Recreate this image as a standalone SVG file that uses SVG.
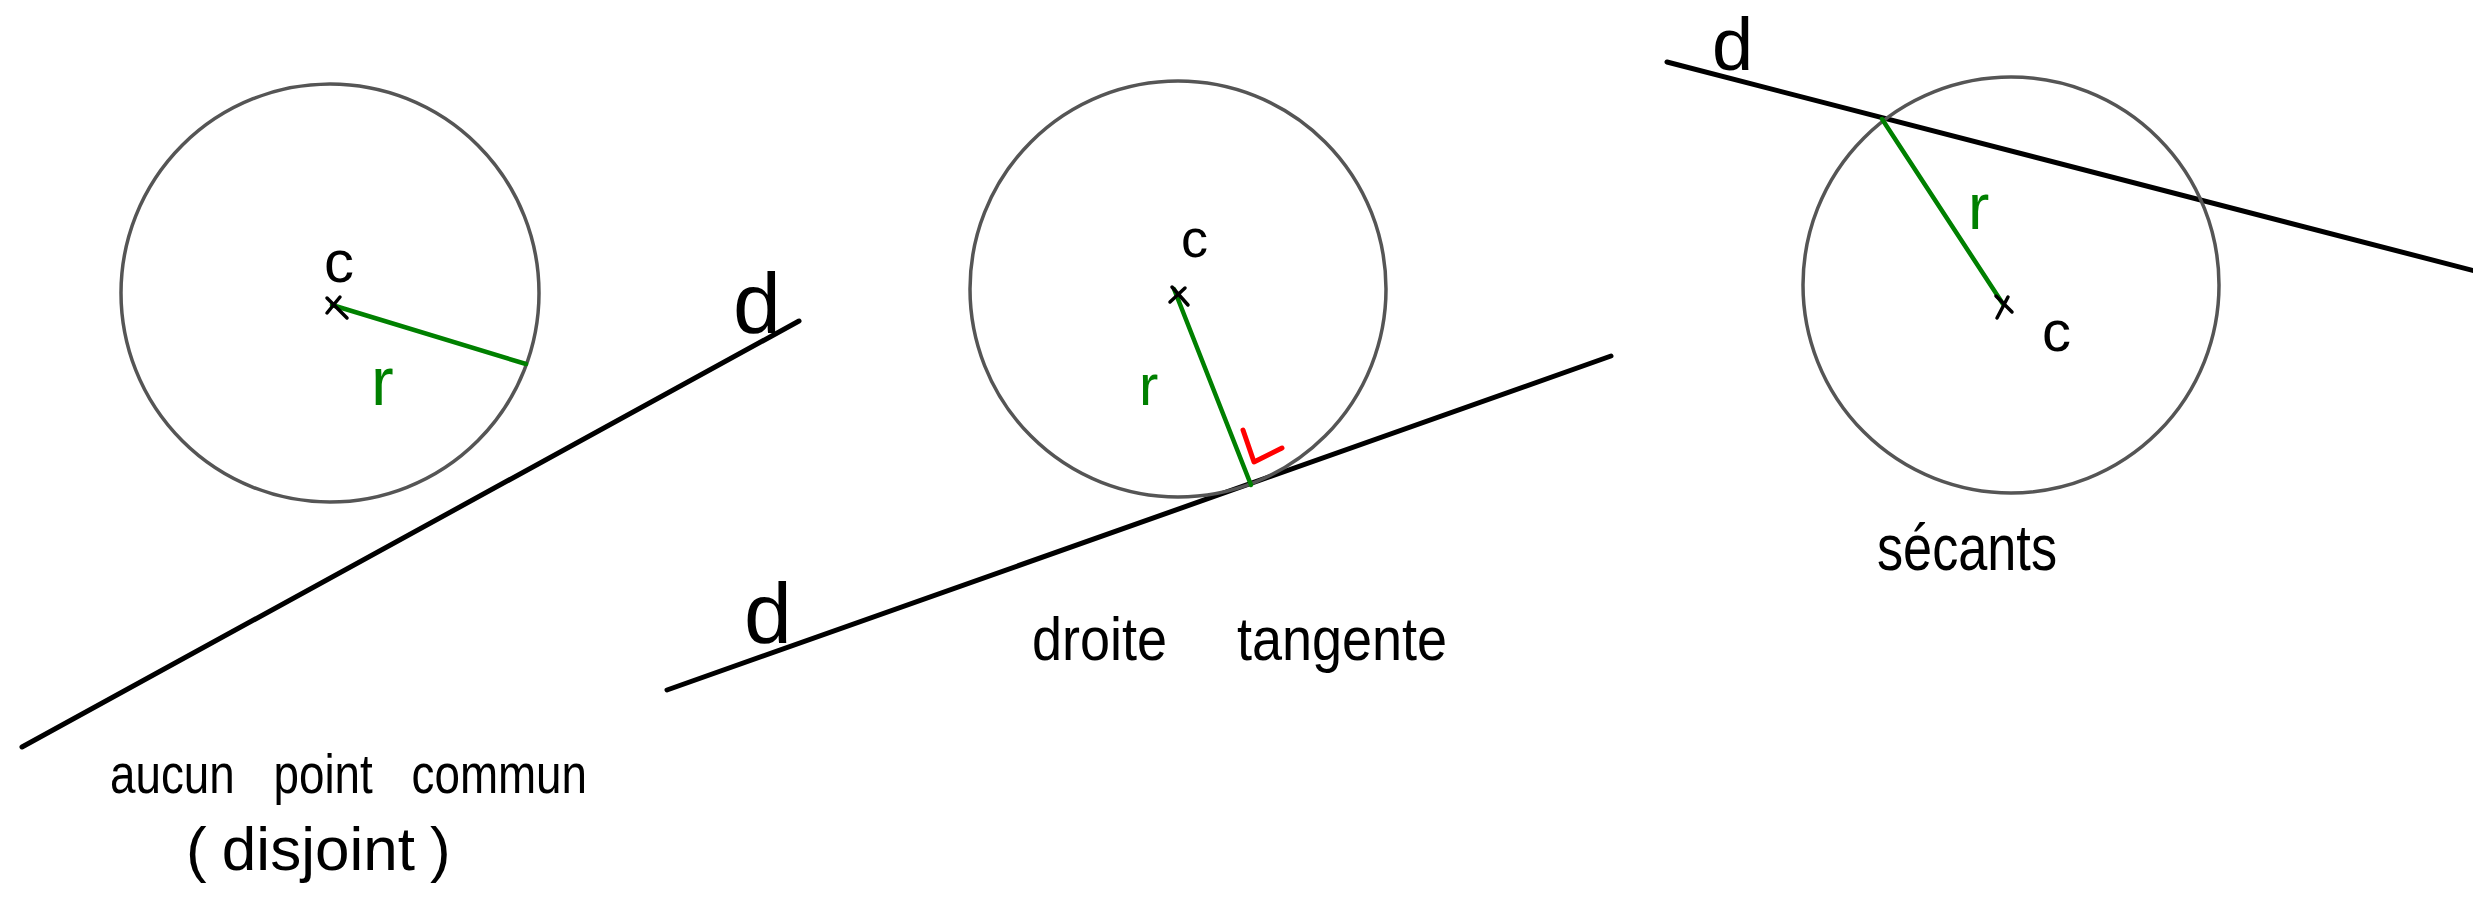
<svg xmlns="http://www.w3.org/2000/svg" width="2473" height="902" viewBox="0 0 2473 902">
<style>
.circ{fill:none;stroke:#555555;stroke-width:3.5}
.ln{stroke:#000;stroke-width:5;stroke-linecap:round;fill:none}
.rad{stroke:#008000;stroke-width:4.5;stroke-linecap:round;fill:none}
.cross{stroke:#000;stroke-width:3.5;stroke-linecap:round;fill:none}
.ang{stroke:#ff0000;stroke-width:5;stroke-linecap:round;stroke-linejoin:round;fill:none}
.t{font-family:"Liberation Sans","DejaVu Sans",sans-serif;fill:#000}
.g{font-family:"Liberation Sans","DejaVu Sans",sans-serif;fill:#008000}
</style>
<rect width="2473" height="902" fill="#ffffff"/>

<g id="connectors">
  <line id="d1" class="ln" x1="22" y1="747" x2="799" y2="321"/>
  <line id="d2" class="ln" x1="667" y1="690" x2="1611" y2="356"/>
  <line id="d3" class="ln" x1="1667" y1="62" x2="2475" y2="271"/>
</g>

<g id="case-disjoint">
  <circle class="circ" cx="330" cy="293" r="209"/>
  <line class="rad" x1="332" y1="305" x2="526" y2="364"/>
  <path class="cross" d="M327 298 L347 318 M340 297 L327 313"/>
  <text class="t" x="324" y="282" font-size="60">c</text>
  <text class="g" x="371" y="405" font-size="68">r</text>
  <text class="t" x="733" y="333" font-size="86">d</text>
  <text class="t" x="110" y="793" font-size="56" word-spacing="32" textLength="477" lengthAdjust="spacingAndGlyphs">aucun point commun</text>
  <text class="t" x="186" y="870" font-size="62" word-spacing="-2">( disjoint )</text>
</g>

<g id="case-tangente">
  <circle class="circ" cx="1178" cy="289" r="208"/>
  <line class="rad" x1="1174" y1="289" x2="1251" y2="485"/>
  <path class="cross" d="M1172 287 L1188 305 M1185 288 L1170 302"/>
  <path class="ang" d="M1243 430 L1254 462 L1282 448"/>
  <text class="t" x="1181" y="257" font-size="54">c</text>
  <text class="g" x="1139" y="405" font-size="58">r</text>
  <text class="t" x="744" y="643" font-size="86">d</text>
  <text class="t" x="1032" y="660" font-size="62" word-spacing="63" textLength="415" lengthAdjust="spacingAndGlyphs">droite tangente</text>
</g>

<g id="case-secants">
  <circle class="circ" cx="2011" cy="285" r="208"/>
  <line class="rad" x1="1882" y1="119" x2="2003" y2="304"/>
  <path class="cross" d="M1996 296 L2012 312 M2008 297 L1997 318"/>
  <text class="g" x="1968" y="229" font-size="64">r</text>
  <text class="t" x="2042" y="351" font-size="58">c</text>
  <text class="t" x="1712" y="70" font-size="74">d</text>
  <text class="t" x="1877" y="570" font-size="64" textLength="180" lengthAdjust="spacingAndGlyphs">sécants</text>
</g>
</svg>
